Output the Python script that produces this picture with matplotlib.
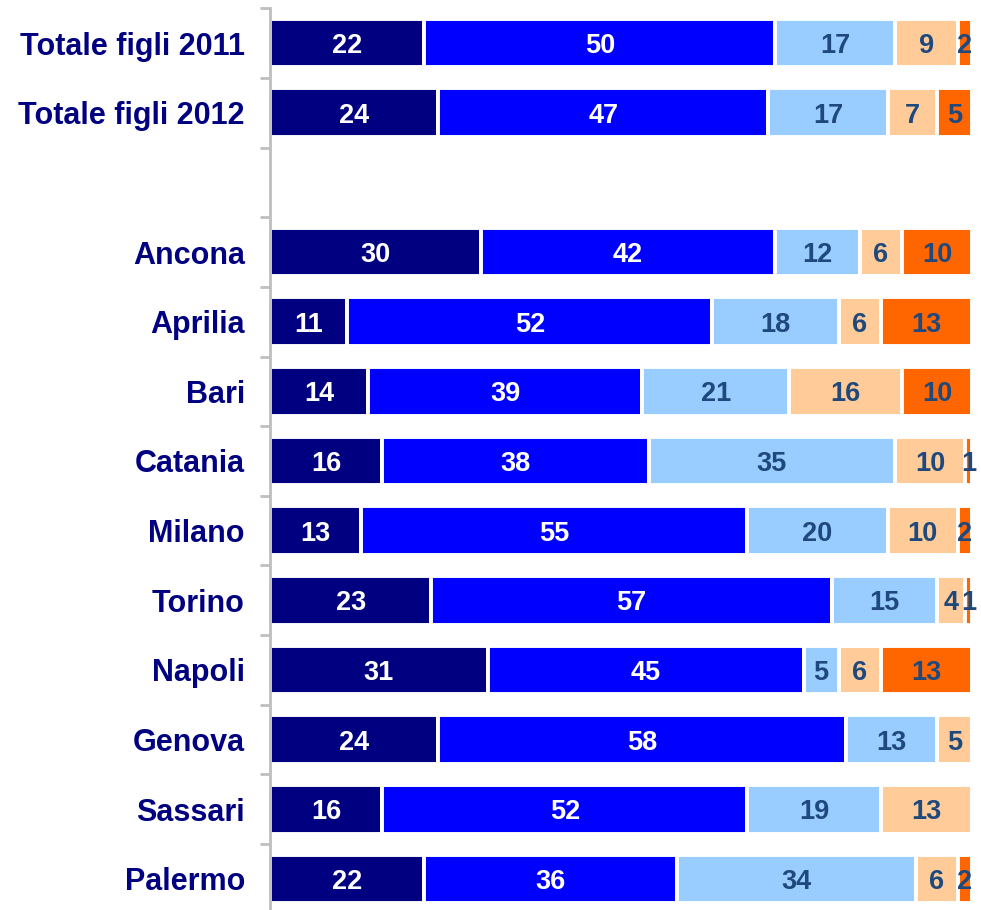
import matplotlib
matplotlib.use("Agg")
import matplotlib.pyplot as plt
import numpy as np

categories = ["Totale figli 2011", "Totale figli 2012", "", "Ancona", "Aprilia", "Bari",
              "Catania", "Milano", "Torino", "Napoli", "Genova", "Sassari", "Palermo"]
s1 = [22, 24, None, 30, 11, 14, 16, 13, 23, 31, 24, 16, 22]
s2 = [50, 47, None, 42, 52, 39, 38, 55, 57, 45, 58, 52, 36]
s3 = [17, 17, None, 12, 18, 21, 35, 20, 15, 5, 13, 19, 34]
s4 = [9, 7, None, 6, 6, 16, 10, 10, 4, 6, 5, 13, 6]
s5 = [2, 5, None, 10, 13, 10, 1, 2, 1, 13, 0, 0, 2]

series = [s1, s2, s3, s4, s5]
colors = ["#000080", "#0000FF", "#99CCFF", "#FFCC99", "#FF6600"]
text_colors = ["white", "white", "#1F497D", "#1F497D", "#1F497D"]

plt.rcParams['font.family'] = ['Liberation Sans', 'DejaVu Sans']

fig = plt.figure(figsize=(9.81, 9.10), dpi=100)
W, H = 981, 910
top_px, bot_px = 8.2, 913.8
ax = fig.add_axes([270 / W, (H - bot_px) / H, 702 / W, (bot_px - top_px) / H])

y = np.arange(len(categories))
left = np.zeros(len(categories))
for vals, c, tc in zip(series, colors, text_colors):
    v = np.array([0 if x is None else x for x in vals], dtype=float)
    ax.barh(y, v, left=left, height=0.7, color=c, edgecolor="white", linewidth=2.8)
    for i, val in enumerate(vals):
        if val is None or val == 0:
            continue
        ax.text(left[i] + val / 2, y[i], str(val), ha="center", va="center_baseline",
                color=tc, fontsize=19.5, fontweight="bold")
    left += v

ax.set_xlim(0, 100)
ax.set_ylim(len(categories) - 0.5, -0.5)

for s in ["top", "right", "bottom"]:
    ax.spines[s].set_visible(False)
ax.spines["left"].set_color("#BFBFBF")
ax.spines["left"].set_linewidth(2)

ax.set_xticks([])
ax.set_yticks(y)
ax.set_yticklabels(categories, color="#000080", fontsize=22, fontweight="bold")
ax.tick_params(axis="y", which="major", length=0, pad=18)
ax.set_yticks(np.arange(-0.5, len(categories) + 0.5, 1), minor=True)
ax.tick_params(axis="y", which="minor", length=7, width=2, color="#BFBFBF")

fig.savefig("out.png", dpi=100)
